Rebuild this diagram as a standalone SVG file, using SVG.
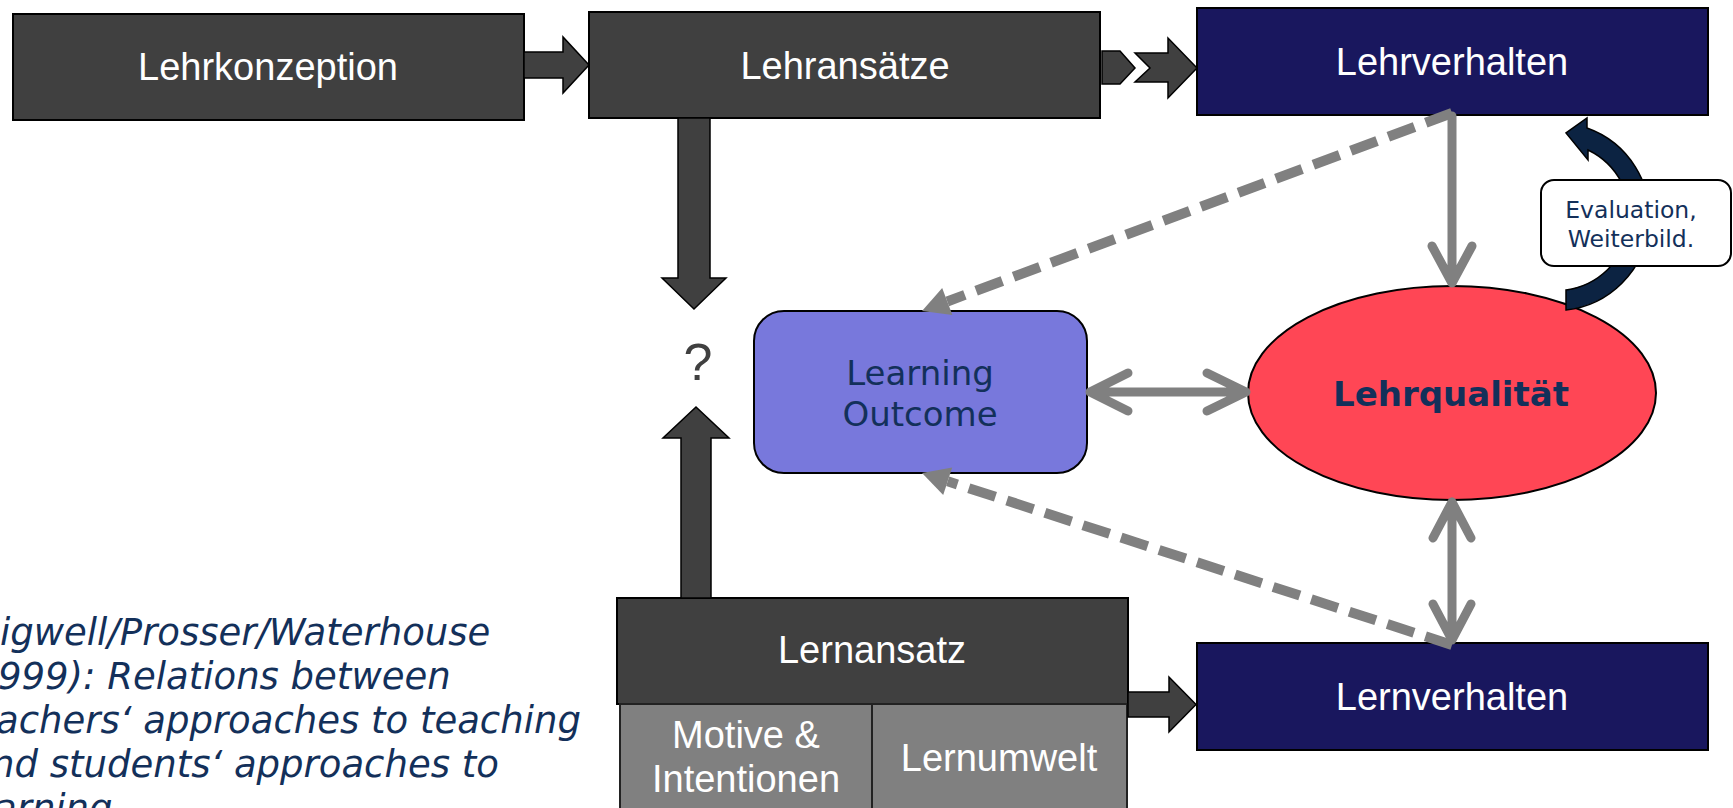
<svg xmlns="http://www.w3.org/2000/svg" width="1733" height="808" viewBox="0 0 1733 808">
<style>
.dark{fill:#404040;stroke:#000;stroke-width:2}
.navy{fill:#19175E;stroke:#000;stroke-width:2}
.sub{fill:#808080;stroke:#222;stroke-width:2}
.lw{font-family:"Liberation Sans",Arial,sans-serif;font-size:38px;fill:#fff;text-anchor:middle}
.nv{font-family:"DejaVu Sans",Verdana,sans-serif;fill:#13305A;text-anchor:middle}
.blk{fill:#404040;stroke:#000;stroke-width:1.5;stroke-linejoin:miter}
.gl{fill:none;stroke:#808080;stroke-width:9;stroke-linecap:round;stroke-linejoin:round}
.dash{fill:none;stroke:#808080;stroke-width:10;stroke-dasharray:28 12}
.ah{fill:#808080}
.cite{font-family:"DejaVu Sans",Verdana,sans-serif;font-style:italic;font-size:37px;fill:#13305A}
</style>
<rect width="1733" height="808" fill="#fff"/>
<g id="nodes">
<g id="lehrkonzeption"><rect class="dark" x="13" y="14" width="511" height="106"/><text class="lw" x="268" y="80">Lehrkonzeption</text></g>
<g id="lehransaetze"><rect class="dark" x="589" y="12" width="511" height="106"/><text class="lw" x="845" y="79">Lehransätze</text></g>
<g id="lehrverhalten"><rect class="navy" x="1197" y="8" width="511" height="107"/><text class="lw" x="1452" y="75">Lehrverhalten</text></g>
<g id="frage"><text x="698" y="380" font-family="Liberation Sans,Arial,sans-serif" font-size="52" fill="#404040" text-anchor="middle">?</text></g>
<g id="learning-outcome"><rect x="754" y="311" width="333" height="162" rx="30" fill="#7878DC" stroke="#000" stroke-width="2"/><text class="nv" x="920" y="385" font-size="34">Learning</text><text class="nv" x="920" y="426" font-size="34">Outcome</text></g>
<g id="lehrqualitaet"><ellipse cx="1452" cy="393" rx="204" ry="107" fill="#FF4655" stroke="#000" stroke-width="2"/><text class="nv" x="1451" y="406" font-size="34" font-weight="bold">Lehrqualität</text></g>
<g id="lernansatz"><rect class="dark" x="617" y="598" width="511" height="106"/><text class="lw" x="872" y="663">Lernansatz</text></g>
<g id="motive"><rect class="sub" x="620" y="704" width="252" height="110"/><text class="lw" x="746" y="748">Motive &amp;</text><text class="lw" x="746" y="792">Intentionen</text></g>
<g id="lernumwelt"><rect class="sub" x="872" y="704" width="255" height="110"/><text class="lw" x="999" y="771">Lernumwelt</text></g>
<g id="lernverhalten"><rect class="navy" x="1197" y="643" width="511" height="107"/><text class="lw" x="1452" y="710">Lernverhalten</text></g>
<g id="quelle">
<text class="cite" x="0" y="645">igwell/Prosser/Waterhouse</text>
<text class="cite" x="-2" y="689">999): Relations between</text>
<text class="cite" x="-4" y="733">achers‘ approaches to teaching</text>
<text class="cite" x="-9" y="777">nd students‘ approaches to</text>
<text class="cite" x="-6" y="821">arning</text>
</g>
</g>
<g id="connectors">
<path class="blk" d="M524,52 L563,52 L563,37 L589,65 L563,93 L563,78 L524,78 Z"/>
<path class="blk" d="M1102,51 L1120,51 L1135,68 L1120,84 L1102,84 Z"/>
<path class="blk" d="M1135,53 L1168,53 L1168,38 L1197,68 L1168,98 L1168,82 L1135,82 L1150,68 Z"/>
<path class="blk" d="M678,118 L710,118 L710,278 L726,278 L694,309 L662,278 L678,278 Z"/>
<path class="blk" d="M681,598 L681,438 L663,438 L696,407 L729,438 L711,438 L711,598 Z"/>
<path class="blk" d="M1128,692 L1169,692 L1169,677 L1196,704.5 L1169,732 L1169,717 L1128,717 Z"/>
<path class="gl" d="M1452,116 L1452,283 M1432,246 L1452,283 L1472,246"/>
<path class="gl" d="M1090,392 L1246,392 M1128,373 L1090,392 L1128,411 M1207,373 L1246,392 L1207,411"/>
<path class="gl" d="M1452,502 L1452,640 M1433,538 L1452,502 L1471,538 M1433,604 L1452,640 L1471,604"/>
<path class="dash" d="M1452,113 L947.3,301.5"/>
<polygon class="ah" points="922,311 942.2,287.9 952.4,315.1"/>
<path class="dash" d="M1452,645 L947.7,481.3"/>
<polygon class="ah" points="922,473 952.2,467.5 943.2,495.1"/>
<path d="M1566,290 A74,74 0 0 0 1588,150 L1588,160 L1566,133 L1587,118 L1587,128 A94,94 0 0 1 1566,310 Z" fill="#0C2342" stroke="#000" stroke-width="1.5"/>
<g id="label-evaluation"><rect x="1541" y="180" width="190" height="86" rx="13" fill="#fff" stroke="#000" stroke-width="2"/><text class="nv" x="1631" y="218" font-size="23.5">Evaluation,</text><text class="nv" x="1631" y="247" font-size="23.5">Weiterbild.</text></g>
</g>
</svg>
